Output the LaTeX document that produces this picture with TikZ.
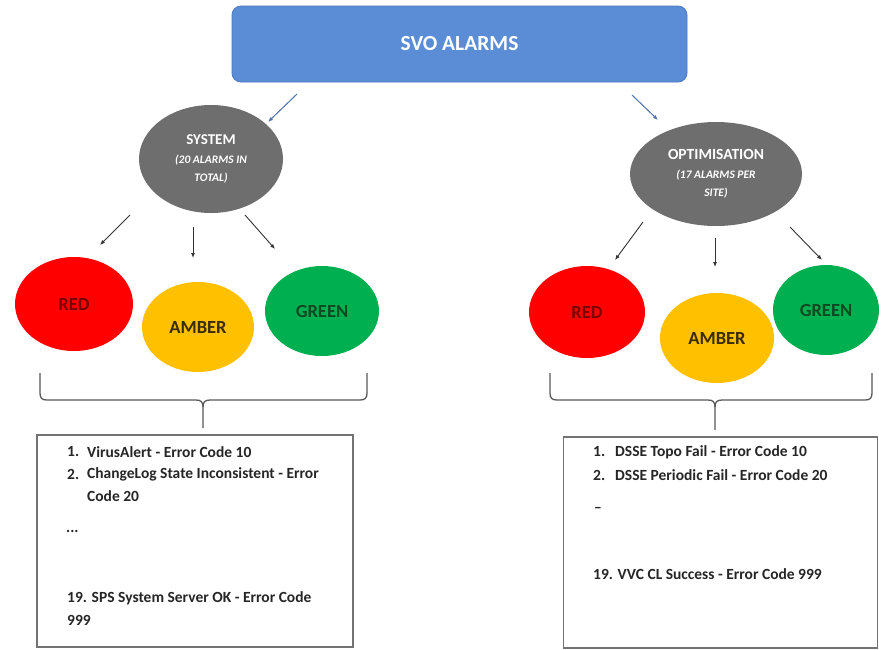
\documentclass[tikz,border=0pt]{standalone}
\usepackage{fontspec}
\setmainfont{Carlito}
\usetikzlibrary{arrows.meta,shapes.geometric}
\definecolor{svoblue}{HTML}{5A8DD6}
\definecolor{svoedge}{HTML}{4A78BE}
\definecolor{topgray}{HTML}{6E6E6E}
\definecolor{alred}{HTML}{FF0000}
\definecolor{alamber}{HTML}{FFC000}
\definecolor{algreen}{HTML}{00B050}
\definecolor{txred}{HTML}{7A0000}
\definecolor{txamber}{HTML}{3A2C00}
\definecolor{txgreen}{HTML}{0C4A22}
\definecolor{arrblue}{HTML}{4F72A8}
\definecolor{boxtext}{HTML}{262626}
\begin{document}
\begin{tikzpicture}[x=1pt,y=-1pt,
  titlebox/.style={rectangle, rounded corners=9pt, fill=svoblue, draw=svoedge, line width=0.8pt,
    minimum width=455pt, minimum height=76pt, text=white, font=\bfseries\fontsize{21.5}{24}\selectfont},
  catell/.style={ellipse, fill=topgray, inner sep=0pt, text=white, align=center,
    font=\bfseries\fontsize{11.5}{18.5}\selectfont},
  lamp/.style={ellipse, inner sep=0pt, font=\bfseries\fontsize{18.5}{20}\selectfont},
  arr/.style={-{Latex[length=5pt,width=4pt]}, line width=0.9pt, draw=black!80},
  toparr/.style={-{Latex[length=5pt,width=4pt]}, line width=1pt, draw=arrblue},
  bracepath/.style={draw=black!65, line width=1.3pt},
  listbox/.style={rectangle, draw=black!55, line width=1.3pt},
  item/.style={anchor=west, inner sep=0pt, text=boxtext, font=\bfseries\fontsize{15.5}{17}\selectfont}
]
\useasboundingbox (0,0) rectangle (879,649);
\fill[white] (0,0) rectangle (879,649);

% title
\node[titlebox] (svo) at (459.5,44) {SVO ALARMS};

% categories
\node[catell, minimum width=144pt, minimum height=108pt] (system) at (211,159)
  {{\fontsize{15}{18.5}\selectfont SYSTEM}\\
   {\itshape (20 ALARMS IN}\\
   {\itshape TOTAL)}};
\node[catell, minimum width=172pt, minimum height=104pt] (opt) at (716,174)
  {{\fontsize{15.5}{18.5}\selectfont OPTIMISATION}\\
   {\itshape (17 ALARMS PER}\\
   {\itshape SITE)}};

% left lamps
\node[lamp, fill=alred, text=txred, minimum width=118pt, minimum height=94pt] (lred) at (74,304) {RED};
\node[lamp, fill=alamber, text=txamber, minimum width=112pt, minimum height=90pt] (lamber) at (198,327) {AMBER};
\node[lamp, fill=algreen, text=txgreen, minimum width=114pt, minimum height=90pt] (lgreen) at (322,311) {GREEN};

% right lamps
\node[lamp, fill=alred, text=txred, minimum width=116pt, minimum height=92pt] (rred) at (587,312) {RED};
\node[lamp, fill=alamber, text=txamber, minimum width=114pt, minimum height=90pt] (ramber) at (717,338) {AMBER};
\node[lamp, fill=algreen, text=txgreen, minimum width=106pt, minimum height=90pt] (rgreen) at (826,310) {GREEN};

% top arrows
\draw[toparr] ([shift={(-162.5,50)}]svo.center) -- ([shift={(57,-37)}]system.center);
\draw[toparr] ([shift={(172.5,51)}]svo.center) -- ([shift={(-58,-54)}]opt.center);

% left arrows
\draw[arr] ([shift={(-81,56)}]system.center) -- ([shift={(26,-59)}]lred.center);
\draw[arr] ([shift={(-18,68)}]system.center) -- ([shift={(-5,-69)}]lamber.center);
\draw[arr] ([shift={(34,56)}]system.center) -- ([shift={(-47,-62)}]lgreen.center);

% right arrows
\draw[arr] ([shift={(-73,48)}]opt.center) -- ([shift={(28,-52)}]rred.center);
\draw[arr] ([shift={(-1,64)}]opt.center) -- ([shift={(-2,-71)}]ramber.center);
\draw[arr] ([shift={(74,53)}]opt.center) -- ([shift={(-4,-50)}]rgreen.center);

% braces
\draw[bracepath] (40,373) -- (40,393) .. controls (40,398) and (42,400) .. (47,400) -- (196,400)
  .. controls (201,400) and (203,402) .. (203,407) -- (203,428);
\draw[bracepath] (367,373) -- (367,393) .. controls (367,398) and (365,400) .. (360,400) -- (210,400)
  .. controls (205,400) and (203,402) .. (203,407);
\draw[bracepath] (550,373) -- (550,393) .. controls (550,398) and (552,400) .. (557,400) -- (708,400)
  .. controls (713,400) and (715,402) .. (715,407) -- (715,430);
\draw[bracepath] (872,373) -- (872,393) .. controls (872,398) and (870,400) .. (865,400) -- (722,400)
  .. controls (717,400) and (715,402) .. (715,407);

% list boxes
\node[listbox, minimum width=316pt, minimum height=212pt] (lbox) at (195,541) {};
\node[listbox, minimum width=314pt, minimum height=211pt] (rbox) at (720.5,542.5) {};

% left list
\node[item] (l1n) at (67,452) {1.};
\node[item] (l1t) at (87,452) {VirusAlert - Error Code 10};
\node[item] (l2n) at (67,474) {2.};
\node[item] (l2t) at (87,474) {ChangeLog State Inconsistent - Error};
\node[item] (l2c) at (87,496) {Code 20};
\node[item] (ldots) at (66,531) {...};
\node[item] (l19) at (67,598) {19. SPS System Server OK - Error Code};
\node[item] (l19c) at (67,620) {999};

% right list
\node[item] (r1n) at (593,452) {1.};
\node[item] (r1t) at (615,452) {DSSE Topo Fail - Error Code 10};
\node[item] (r2n) at (593,475) {2.};
\node[item] (r2t) at (615,475) {DSSE Periodic Fail - Error Code 20};
\node[item] (rdash) at (594,510) {--};
\node[item] (r19) at (593,574) {19. VVC CL Success - Error Code 999};
\end{tikzpicture}
\end{document}
